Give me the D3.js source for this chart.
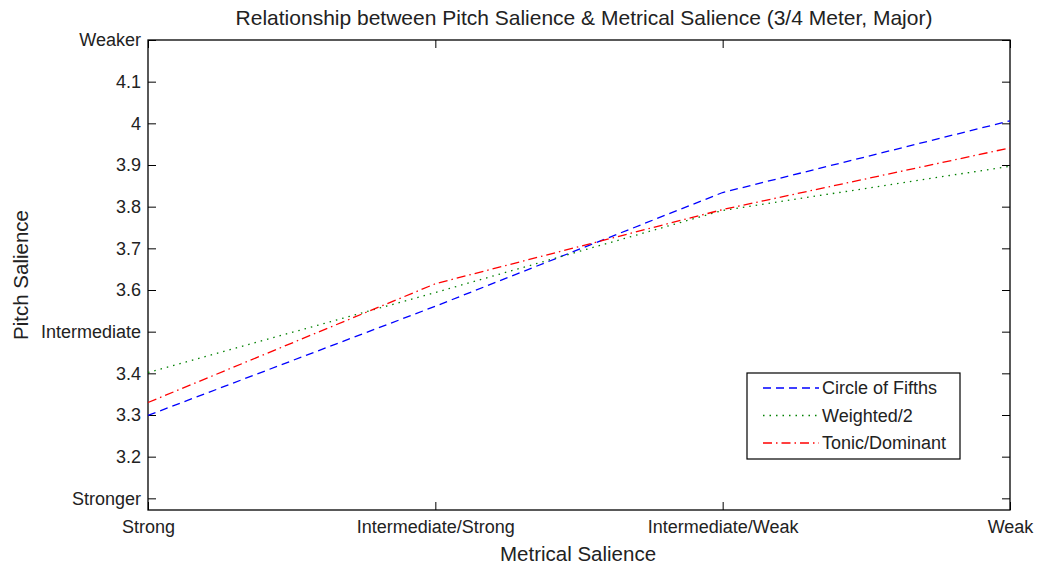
<!DOCTYPE html>
<html>
<head>
<meta charset="utf-8">
<script src="https://cdn.jsdelivr.net/npm/d3@7"></script>
<style>
  body { margin: 0; background: #fff; }
  svg text { font-family: "Liberation Sans", Arial, sans-serif; fill: #222; }
</style>
</head>
<body>
<svg id="chart"></svg>
<script>
// data
const categories = ["Strong", "Intermediate/Strong", "Intermediate/Weak", "Weak"];
const circleOfFifths = [3.299, 3.561, 3.834, 4.006];
const weighted2 = [3.402, 3.594, 3.791, 3.897];
const tonicDominant = [3.330, 3.615, 3.793, 3.941];
const yTickValues = [3.1, 3.2, 3.3, 3.4, 3.5, 3.6, 3.7, 3.8, 3.9, 4.0, 4.1, 4.2];
const yTickLabels = ["Stronger", "3.2", "3.3", "3.4", "Intermediate", "3.6", "3.7", "3.8", "3.9", "4", "4.1", "Weaker"];

const series = [
    { name: "Circle of Fifths", values: circleOfFifths, color: "#0000ff", dash: "8,5" },
    { name: "Weighted/2", values: weighted2, color: "#008000", dash: "1.5,5" },
    { name: "Tonic/Dominant", values: tonicDominant, color: "#ff0000", dash: "9,4,1.5,4" }
];

const width = 1039, height = 567;
const margin = { top: 40, right: 29, bottom: 57, left: 148 };
const innerW = width - margin.left - margin.right;
const innerH = height - margin.top - margin.bottom;

const svg = d3.select("#chart").attr("width", width).attr("height", height);
const g = svg.append("g").attr("transform", `translate(${margin.left},${margin.top})`);

const x = d3.scalePoint().domain(categories).range([0, innerW]);
const y = d3.scaleLinear().domain([3.072, 4.2]).range([innerH, 0]);

// bottom / top axes, ticks inward
const axisBottom = d3.axisBottom(x).tickSizeInner(-8).tickSizeOuter(0).tickPadding(10);
const gx = g.append("g").attr("transform", `translate(0,${innerH})`).call(axisBottom);
gx.selectAll("text").style("font-size", "18px");
g.append("g").call(d3.axisTop(x).tickSizeInner(-8).tickSizeOuter(0).tickFormat(""));

const yLabel = d => yTickLabels[yTickValues.findIndex(v => Math.abs(v - d) < 1e-9)];
const gy = g.append("g").call(d3.axisLeft(y).tickValues(yTickValues).tickFormat(yLabel)
    .tickSizeInner(-8).tickSizeOuter(0).tickPadding(7));
gy.selectAll("text").style("font-size", "18px");
g.append("g").attr("transform", `translate(${innerW},0)`)
    .call(d3.axisRight(y).tickValues(yTickValues).tickFormat("").tickSizeInner(-8).tickSizeOuter(0));

g.selectAll(".domain").remove();
g.selectAll(".tick line").attr("stroke", "#000");
g.append("rect").attr("width", innerW).attr("height", innerH)
    .attr("fill", "none").attr("stroke", "#000").attr("stroke-width", 1.3);

// lines
const line = d3.line().x((d, i) => x(categories[i])).y(d => y(d));
series.forEach(s => {
    g.append("path")
        .datum(s.values)
        .attr("fill", "none")
        .attr("stroke", s.color)
        .attr("stroke-width", 1.3)
        .attr("stroke-dasharray", s.dash)
        .attr("d", line);
});

// titles
svg.append("text").attr("x", margin.left + innerW / 2 + 5).attr("y", 25)
    .attr("text-anchor", "middle").style("font-size", "21px")
    .text("Relationship between Pitch Salience & Metrical Salience (3/4 Meter, Major)");
svg.append("text").attr("x", margin.left + innerW / 2 - 1).attr("y", 561)
    .attr("text-anchor", "middle").style("font-size", "20.5px")
    .text("Metrical Salience");
svg.append("text")
    .attr("transform", `translate(28,${margin.top + innerH / 2}) rotate(-90)`)
    .attr("text-anchor", "middle").style("font-size", "20.5px")
    .text("Pitch Salience");

// legend
const lg = svg.append("g").attr("transform", "translate(747,373)");
lg.append("rect").attr("width", 213).attr("height", 86)
    .attr("fill", "#fff").attr("stroke", "#000").attr("stroke-width", 1.2);
series.forEach((s, i) => {
    const yy = 15 + i * 27.5;
    lg.append("line").attr("x1", 16).attr("x2", 72).attr("y1", yy).attr("y2", yy)
        .attr("stroke", s.color).attr("stroke-width", 1.3).attr("stroke-dasharray", s.dash);
    lg.append("text").attr("x", 75).attr("y", yy + 6).style("font-size", "18px").text(s.name);
});
</script>
</body>
</html>
